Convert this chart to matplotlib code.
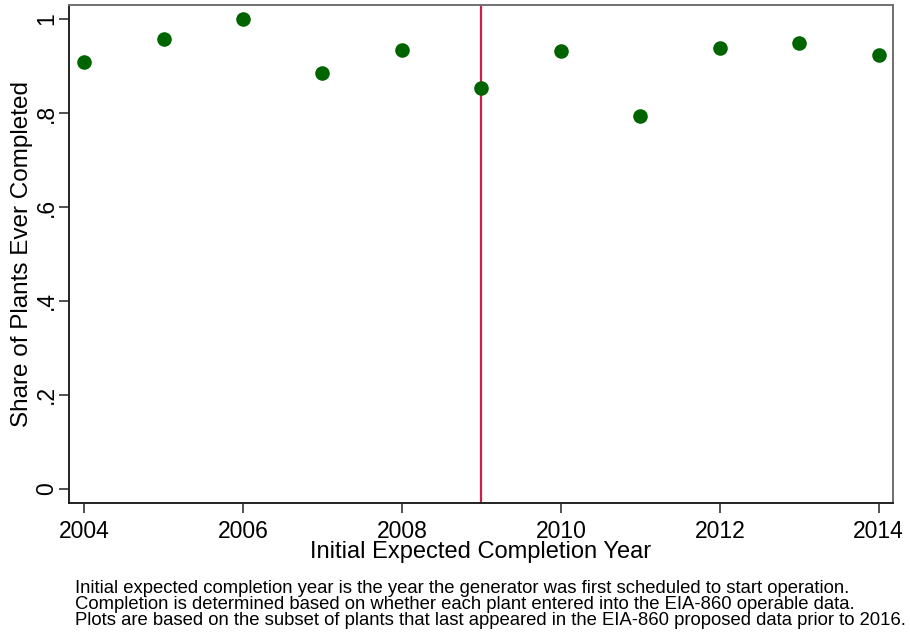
import numpy as np
import matplotlib
matplotlib.use('Agg')
import matplotlib.pyplot as plt

years = [2004, 2005, 2006, 2007, 2008, 2009, 2010, 2011, 2012, 2013, 2014]
share_completed = [0.908, 0.957, 1.0, 0.885, 0.934, 0.853, 0.932, 0.794, 0.938, 0.949, 0.923]
cutoff_year = 2009
xticks = [2004, 2006, 2008, 2010, 2012, 2014]
yticks = [0, 0.2, 0.4, 0.6, 0.8, 1.0]
ytick_labels = ['0', '.2', '.4', '.6', '.8', '1']
notes = ['Initial expected completion year is the year the generator was first scheduled to start operation.',
         'Completion is determined based on whether each plant entered into the EIA-860 operable data.',
         'Plots are based on the subset of plants that last appeared in the EIA-860 proposed data prior to 2016.']

plt.rcParams['font.family'] = ['Liberation Sans', 'DejaVu Sans']

fig = plt.figure(figsize=(9.1, 6.38), dpi=100)
ax = fig.add_axes([0.0758, 0.2116, 0.9055, 0.7806])

ax.scatter(years, share_completed, s=110, color='#006400', zorder=3, linewidths=0)
ax.axvline(cutoff_year, color='#c8204e', linewidth=1.6, zorder=2)

ax.set_xlim(2003.81, 2014.18)
ax.set_ylim(-0.0298, 1.0298)
ax.set_xticks(xticks)
ax.set_yticks(yticks)
ax.set_yticklabels(ytick_labels, rotation=90, va='center')
ax.tick_params(axis='both', direction='out', length=7, width=1.1, labelsize=16.5, color='#222222')
ax.tick_params(axis='x', pad=5)
ax.tick_params(axis='y', pad=1)

for side in ['left', 'bottom']:
    ax.spines[side].set_color('#222222')
    ax.spines[side].set_linewidth(1.4)
for side in ['top', 'right']:
    ax.spines[side].set_color('#707070')
    ax.spines[side].set_linewidth(1.4)

ax.set_xlabel('Initial Expected Completion Year', fontsize=17, labelpad=-1)
ax.set_ylabel('Share of Plants Ever Completed', fontsize=17.5, labelpad=1)

for i, line in enumerate(notes):
    fig.text(75 / 910, 1 - (593 + 16 * i) / 638, line, fontsize=13.3,
             va='baseline', ha='left')

fig.savefig('out.png', dpi=100)
